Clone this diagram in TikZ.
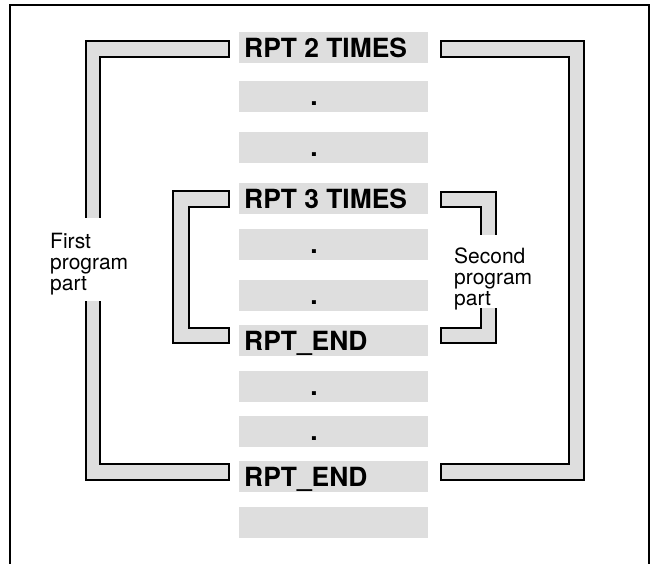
\documentclass[tikz,border=0pt]{standalone}
\usepackage{fontspec}
\setmainfont{TeX Gyre Heros}
\definecolor{barfill}{HTML}{DEDEDE}
\tikzset{
  bar/.style={fill=barfill, draw=none},
  bracket/.style={fill=barfill, draw=black, line width=1.2pt, line join=miter},
  cmd/.style={anchor=base west, inner sep=0pt, font=\fontsize{26.4}{26.4}\selectfont\bfseries},
  dotcmd/.style={anchor=base, inner sep=0pt, font=\fontsize{26.4}{26.4}\selectfont\bfseries},
  note/.style={anchor=north west, inner sep=0pt, align=left, font=\fontsize{21}{21}\selectfont},
  frame/.style={draw=black, line width=2pt}
}
\begin{document}
\begin{tikzpicture}[x=1pt, y=-1pt]
\useasboundingbox (0,0) rectangle (653,563);

% program lines: gray bars with top edges at these y values
\foreach \t [count=\i] in {32,81,132,183,229,280,325,371,416,461,507}{
  \fill[bar] (239,\t) rectangle (428,\t+31);
}

% bar contents
\node[cmd] (r2)  at (244,57)  {RPT 2 TIMES};
\node[dotcmd] (d1) at (314,105) {.};
\node[dotcmd] (d2) at (314,156) {.};
\node[cmd] (r3)  at (244,208) {RPT 3 TIMES};
\node[dotcmd] (d3) at (314,253) {.};
\node[dotcmd] (d4) at (314,304) {.};
\node[cmd] (e3)  at (244,350) {RPT\_END};
\node[dotcmd] (d5) at (314,395) {.};
\node[dotcmd] (d6) at (314,440) {.};
\node[cmd] (e2)  at (244,486) {RPT\_END};

% outer bracket, left half
\draw[bracket] (229,41) -- (86,41) -- (86,480) -- (229,480) -- (229,464)
  -- (100,464) -- (100,57) -- (229,57) -- cycle;
% outer bracket, right half
\draw[bracket] (441,41) -- (584,41) -- (584,480) -- (441,480) -- (441,464)
  -- (569,464) -- (569,57) -- (441,57) -- cycle;
% inner bracket, left half
\draw[bracket] (229,191) -- (173,191) -- (173,343) -- (229,343) -- (229,328)
  -- (189,328) -- (189,207) -- (229,207) -- cycle;
% inner bracket, right half
\draw[bracket] (441,192) -- (496,192) -- (496,343) -- (441,343) -- (441,328)
  -- (481,328) -- (481,207) -- (441,207) -- cycle;

% gaps in the brackets behind the labels
\fill[white] (78,218) rectangle (108,301);
\fill[white] (474,235) rectangle (504,308);

\node[note] (first)  at (50,233)  {First\\program\\part};
\node[note] (second) at (454,248) {Second\\program\\part};

% surrounding frame (open at the bottom edge)
\draw[frame] (10,564) -- (10,5) -- (648.5,5) -- (648.5,564);
\end{tikzpicture}
\end{document}
